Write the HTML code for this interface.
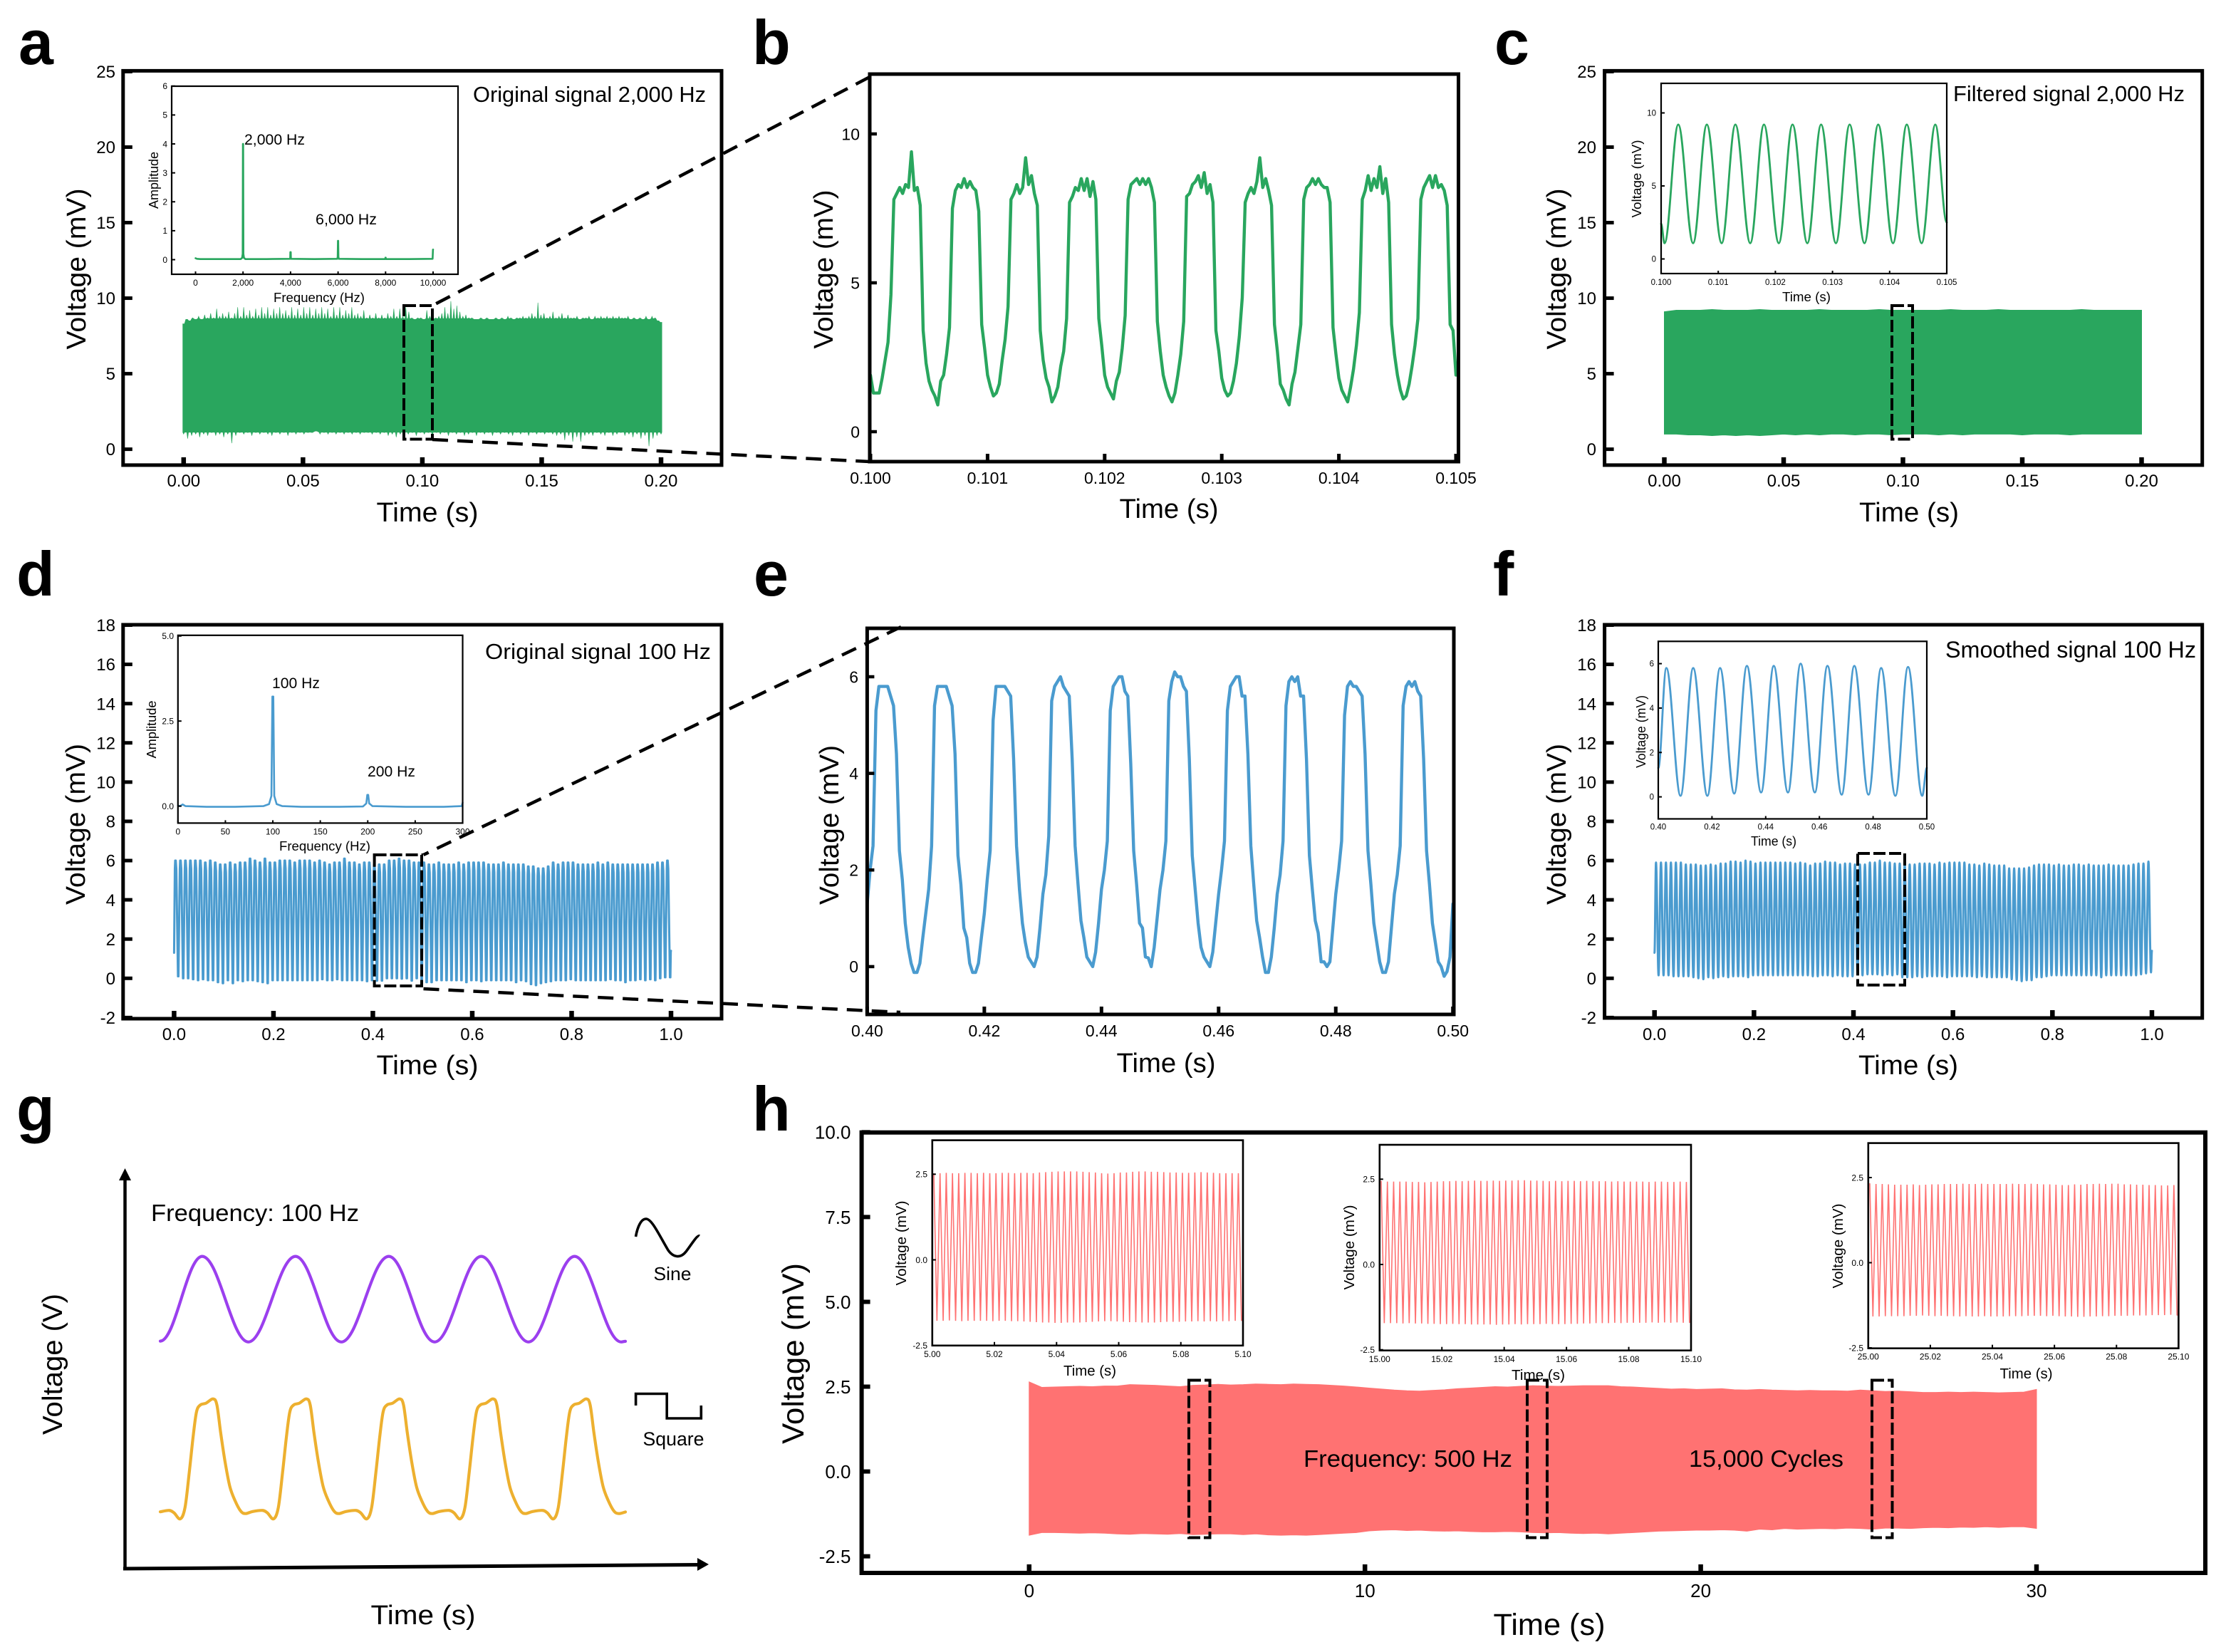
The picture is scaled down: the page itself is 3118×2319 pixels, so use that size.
<!DOCTYPE html>
<html lang="en">
<head>
<meta charset="utf-8">
<title>Signal filtering figure</title>
<style>
html,body{margin:0;padding:0;background:#fff;}
svg{display:block;}
svg text{font-family:"Liberation Sans",Arial,sans-serif;fill:#000;}
.letter{font-weight:700;font-size:88px;}
.sel{fill:none;stroke:#000;stroke-width:4;stroke-dasharray:17 5;}
.conn{fill:none;stroke:#000;stroke-width:4.5;stroke-dasharray:22 13;}
</style>
</head>
<body>
<svg id="chart" xmlns="http://www.w3.org/2000/svg" width="3118" height="2319" viewBox="0 0 3118 2319">
<rect x="0" y="0" width="3118" height="2319" fill="#fff"/>

<g id="panel-a"></g>
<g id="panel-b"></g>
<g id="panel-c"></g>
<g id="panel-d"></g>
<g id="panel-e"></g>
<g id="panel-f"></g>
<g id="panel-g"></g>
<g id="panel-h"></g>

<text class="letter" x="26" y="90">a</text>
<text class="letter" x="1056" y="90">b</text>
<text class="letter" x="2098" y="90">c</text>
<text class="letter" x="23" y="836">d</text>
<text class="letter" x="1058" y="836">e</text>
<text class="letter" x="2096" y="836">f</text>
<text class="letter" x="23" y="1587">g</text>
<text class="letter" x="1056" y="1587">h</text>

<!-- panel a text -->
<text transform="translate(120,377.5) rotate(-90)" text-anchor="middle" font-size="38" textLength="226" lengthAdjust="spacingAndGlyphs">Voltage (mV)</text>
<text x="600" y="732" text-anchor="middle" font-size="38" textLength="143" lengthAdjust="spacingAndGlyphs">Time (s)</text>
<text x="664" y="143" font-size="31" textLength="327" lengthAdjust="spacingAndGlyphs">Original signal 2,000 Hz</text>
<text x="448" y="424" text-anchor="middle" font-size="18.5" textLength="128" lengthAdjust="spacingAndGlyphs">Frequency (Hz)</text>
<text transform="translate(222,253) rotate(-90)" text-anchor="middle" font-size="18" textLength="80" lengthAdjust="spacingAndGlyphs">Amplitude</text>
<text x="343" y="203" font-size="21" textLength="85" lengthAdjust="spacingAndGlyphs">2,000 Hz</text>
<text x="443" y="315" font-size="21" textLength="86" lengthAdjust="spacingAndGlyphs">6,000 Hz</text>

<!-- panel b text -->
<text transform="translate(1169,378) rotate(-90)" text-anchor="middle" font-size="38" textLength="223" lengthAdjust="spacingAndGlyphs">Voltage (mV)</text>
<text x="1641" y="727" text-anchor="middle" font-size="38" textLength="139" lengthAdjust="spacingAndGlyphs">Time (s)</text>

<!-- panel c text -->
<text transform="translate(2198,377.5) rotate(-90)" text-anchor="middle" font-size="38" textLength="226" lengthAdjust="spacingAndGlyphs">Voltage (mV)</text>
<text x="2680" y="732" text-anchor="middle" font-size="38" textLength="140" lengthAdjust="spacingAndGlyphs">Time (s)</text>
<text x="2742" y="142" font-size="31" textLength="325" lengthAdjust="spacingAndGlyphs">Filtered signal 2,000 Hz</text>
<text x="2536" y="423" text-anchor="middle" font-size="18.5" textLength="68" lengthAdjust="spacingAndGlyphs">Time (s)</text>
<text transform="translate(2304,251) rotate(-90)" text-anchor="middle" font-size="18.5" textLength="109" lengthAdjust="spacingAndGlyphs">Voltage (mV)</text>

<!-- panel d text -->
<text transform="translate(119,1157) rotate(-90)" text-anchor="middle" font-size="38" textLength="226" lengthAdjust="spacingAndGlyphs">Voltage (mV)</text>
<text x="600" y="1508" text-anchor="middle" font-size="38" textLength="143" lengthAdjust="spacingAndGlyphs">Time (s)</text>
<text x="681" y="925" font-size="31" textLength="317" lengthAdjust="spacingAndGlyphs">Original signal 100 Hz</text>
<text x="456" y="1194" text-anchor="middle" font-size="18.5" textLength="128" lengthAdjust="spacingAndGlyphs">Frequency (Hz)</text>
<text transform="translate(219,1024) rotate(-90)" text-anchor="middle" font-size="18" textLength="81" lengthAdjust="spacingAndGlyphs">Amplitude</text>
<text x="382" y="966" font-size="21" textLength="67" lengthAdjust="spacingAndGlyphs">100 Hz</text>
<text x="516" y="1090" font-size="21" textLength="67" lengthAdjust="spacingAndGlyphs">200 Hz</text>

<!-- panel e text -->
<text transform="translate(1177,1158) rotate(-90)" text-anchor="middle" font-size="38" textLength="224" lengthAdjust="spacingAndGlyphs">Voltage (mV)</text>
<text x="1637" y="1505" text-anchor="middle" font-size="38" textLength="139" lengthAdjust="spacingAndGlyphs">Time (s)</text>

<!-- panel f text -->
<text transform="translate(2198,1157) rotate(-90)" text-anchor="middle" font-size="38" textLength="226" lengthAdjust="spacingAndGlyphs">Voltage (mV)</text>
<text x="2679" y="1508" text-anchor="middle" font-size="38" textLength="140" lengthAdjust="spacingAndGlyphs">Time (s)</text>
<text x="2731" y="923" font-size="32" textLength="352" lengthAdjust="spacingAndGlyphs">Smoothed signal 100 Hz</text>
<text x="2490" y="1187" text-anchor="middle" font-size="18" textLength="64" lengthAdjust="spacingAndGlyphs">Time (s)</text>
<text transform="translate(2310,1027) rotate(-90)" text-anchor="middle" font-size="18" textLength="102" lengthAdjust="spacingAndGlyphs">Voltage (mV)</text>

<!-- panel g text and legend -->
<text transform="translate(87,1915) rotate(-90)" text-anchor="middle" font-size="39" textLength="198" lengthAdjust="spacingAndGlyphs">Voltage (V)</text>
<text x="594" y="2280" text-anchor="middle" font-size="38" textLength="147" lengthAdjust="spacingAndGlyphs">Time (s)</text>
<text x="212" y="1714" font-size="33" textLength="292" lengthAdjust="spacingAndGlyphs">Frequency: 100 Hz</text>
<text x="944" y="1797" text-anchor="middle" font-size="26" textLength="53" lengthAdjust="spacingAndGlyphs">Sine</text>
<text x="945.5" y="2029" text-anchor="middle" font-size="26.5" textLength="86" lengthAdjust="spacingAndGlyphs">Square</text>
<path d="M892.5 1736 C895 1722 900 1711 907 1711 C915 1711 925 1733 938 1755 C945 1765 955 1767 963 1757 C970 1748 979 1733 982 1735" fill="none" stroke="#000" stroke-width="3.6"/>
<polyline points="892.6,1973 892.6,1956.5 936.2,1956.5 936.2,1991 984.3,1991 984.3,1973" fill="none" stroke="#000" stroke-width="3.6"/>
<line x1="175.5" y1="2203" x2="175.5" y2="1655" stroke="#000" stroke-width="4.5"/>
<polygon points="175.5,1640 167,1657 184,1657" fill="#000"/>
<line x1="173" y1="2202" x2="982" y2="2196.5" stroke="#000" stroke-width="5"/>
<polygon points="995,2196 979,2187 979,2205" fill="#000"/>

<!-- panel h text -->
<text transform="translate(1128,1900) rotate(-90)" text-anchor="middle" font-size="43" textLength="254" lengthAdjust="spacingAndGlyphs">Voltage (mV)</text>
<text x="2175" y="2295" text-anchor="middle" font-size="43" textLength="157" lengthAdjust="spacingAndGlyphs">Time (s)</text>
<text x="1530" y="1931" text-anchor="middle" font-size="20" textLength="74" lengthAdjust="spacingAndGlyphs">Time (s)</text>
<text transform="translate(1272,1745) rotate(-90)" text-anchor="middle" font-size="20" textLength="119" lengthAdjust="spacingAndGlyphs">Voltage (mV)</text>
<text x="2159.5" y="1937" text-anchor="middle" font-size="20" textLength="75" lengthAdjust="spacingAndGlyphs">Time (s)</text>
<text transform="translate(1901,1751) rotate(-90)" text-anchor="middle" font-size="20" textLength="119" lengthAdjust="spacingAndGlyphs">Voltage (mV)</text>
<text x="2844.5" y="1935" text-anchor="middle" font-size="20" textLength="74" lengthAdjust="spacingAndGlyphs">Time (s)</text>
<text transform="translate(2587,1749) rotate(-90)" text-anchor="middle" font-size="20" textLength="119" lengthAdjust="spacingAndGlyphs">Voltage (mV)</text>

<g id="overlays">
<rect class="sel" x="567" y="429" width="40" height="187.5"/>
<rect class="sel" x="2656" y="429" width="29" height="187.5"/>
<rect class="sel" x="525.6" y="1200" width="66.4" height="184"/>
<rect class="sel" x="2608" y="1198" width="66" height="184.7"/>
<rect class="sel" x="1669" y="1937.5" width="29.5" height="221"/>
<rect class="sel" x="2144" y="1937.5" width="28" height="221"/>
<rect class="sel" x="2628" y="1937.5" width="28.5" height="221"/>
<line class="conn" x1="1221" y1="108" x2="607" y2="429"/>
<line class="conn" x1="607" y1="617" x2="1221" y2="648"/>
<line class="conn" x1="1265" y1="880" x2="594.5" y2="1200"/>
<line class="conn" x1="594.5" y1="1388" x2="1264" y2="1421"/>
</g>

<text x="1830" y="2059" font-size="33" textLength="293" lengthAdjust="spacingAndGlyphs">Frequency: 500 Hz</text>
<text x="2371" y="2059" font-size="33" textLength="217" lengthAdjust="spacingAndGlyphs">15,000 Cycles</text>
</svg>

<script>
/* ---------- panel a data ---------- */
const aXTicks=[0,0.05,0.10,0.15,0.20];
const aXLabels=['0.00','0.05','0.10','0.15','0.20'];
const aYTicks=[0,5,10,15,20,25];
const aYLabels=['0','5','10','15','20','25'];
const aTop=[8.3,8.6,8.5,8.7,8.6,8.8,8.6,8.9,8.7,9.0,8.7,9.3,8.8,9.0,8.8,9.1,8.7,9.0,9.4,8.8,9.4,8.9,9.2,8.8,9.3,8.9,9.4,9.0,9.4,8.9,9.3,9.0,9.4,9.0,9.2,8.9,9.4,8.9,9.3,8.9,9.4,9.0,9.4,8.9,9.3,9.0,9.4,9.0,9.3,8.8,9.4,8.9,9.4,8.9,9.2,9.0,9.4,8.9,9.0,8.8,9.2,8.7,8.9,8.7,9.0,8.7,8.9,8.7,9.0,8.8,9.3,8.8,9.3,8.8,9.4,9.1,8.7,8.6,8.7,8.7,8.6,9.2,8.8,8.7,8.7,8.8,9.0,9.4,9.0,9.8,9.3,9.5,9.1,8.8,8.9,8.7,8.7,8.6,8.6,8.7,8.6,8.7,8.6,8.6,8.7,8.6,8.7,8.6,8.8,8.7,8.6,8.7,8.7,8.8,8.7,8.8,9.0,8.8,9.7,8.9,9.0,8.7,8.8,9.1,8.7,8.8,9.0,8.7,8.9,8.7,8.7,8.8,8.6,8.7,8.7,8.8,8.6,8.8,8.7,8.8,8.7,8.8,8.7,8.8,8.7,8.8,8.7,8.7,8.8,8.6,8.7,8.6,8.7,8.6,8.8,8.6,8.8,8.7,8.5,8.4];
const aBottom=[1.0,0.7,0.9,1.0,0.8,1.0,0.9,1.1,0.9,1.0,0.8,1.0,0.4,0.9,1.1,1.0,1.1,0.9,1.1,1.0,1.1,1.0,0.9,1.1,1.0,1.1,0.9,1.1,1.0,1.1,1.0,1.1,1.1,1.2,1.0,1.1,1.0,1.1,1.0,1.1,1.0,1.1,1.0,1.1,1.0,1.1,1.1,1.0,1.1,1.0,1.1,0.9,1.0,0.8,1.0,0.9,1.0,1.1,0.9,1.1,1.0,1.1,0.9,1.1,1.0,1.1,0.9,1.1,1.0,1.1,0.9,1.0,1.1,0.9,1.1,1.0,1.1,0.9,1.1,1.0,1.1,1.0,0.9,1.1,1.0,1.1,0.9,1.1,1.0,1.1,1.0,1.1,1.0,0.9,1.0,0.6,0.9,0.5,0.8,0.5,0.9,1.0,0.9,1.1,1.0,0.9,1.1,0.9,1.0,1.1,0.9,1.0,0.8,1.0,0.7,0.9,0.2,0.7,0.9,1.0];
const aTopBase=[8.65];
const aBottomBase=[1.12];
const aInsetFreq=[0,60,200,1000,1900,1960,1985,1995,2005,2015,2040,2100,3000,3985,3992,4000,4008,4015,5000,5970,5985,5995,6005,6015,6030,7000,7985,7995,8005,8015,9000,9980,9995,10000];
const aInsetAmp=[0.05,0.03,0.02,0.02,0.02,0.06,0.2,4.0,4.0,0.2,0.06,0.02,0.02,0.03,0.26,0.26,0.26,0.03,0.02,0.03,0.1,0.65,0.65,0.1,0.03,0.02,0.02,0.07,0.07,0.02,0.02,0.03,0.35,0.35];
const aInsetXTicks=[0,2000,4000,6000,8000,10000];
const aInsetXLabels=['0','2,000','4,000','6,000','8,000','10,000'];
const aInsetYTicks=[0,1,2,3,4,5,6];
const aInsetYLabels=['0','1','2','3','4','5','6'];

/* ---------- panel b data ---------- */
const bXTicks=[0.100,0.101,0.102,0.103,0.104,0.105];
const bXLabels=['0.100','0.101','0.102','0.103','0.104','0.105'];
const bYTicks=[0,5,10];
const bYLabels=['0','5','10'];
const bValues=[
1.9,1.3,1.3,1.3,1.8,2.4,3.0,4.6,7.8,8.0,8.2,8.0,8.3,8.2,9.4,8.1,8.2,7.6,3.4,2.3,
1.7,1.4,1.2,0.9,1.7,1.9,2.6,3.5,7.5,8.1,8.3,8.2,8.5,8.2,8.4,8.2,8.1,7.4,3.6,2.8,
1.9,1.5,1.2,1.3,1.6,2.4,3.1,4.2,7.8,8.0,8.3,8.0,8.2,9.2,8.3,8.6,8.0,7.6,3.4,2.4,
1.8,1.5,1.0,1.2,1.5,2.2,2.7,3.8,7.7,7.9,8.2,8.1,8.5,8.1,8.5,7.9,8.4,7.8,3.8,2.9,
1.9,1.5,1.3,1.1,1.7,2.0,2.8,3.9,7.8,8.3,8.4,8.5,8.3,8.5,8.3,8.5,8.2,7.7,3.7,2.7,
1.9,1.5,1.2,1.0,1.3,1.9,2.6,3.7,7.9,8.0,8.3,8.4,8.6,8.2,8.7,8.0,8.3,7.7,3.4,2.7,
1.8,1.4,1.2,1.3,1.7,2.3,3.2,4.5,7.7,8.0,8.2,8.0,8.4,9.2,8.2,8.5,8.1,7.6,3.6,2.7,
1.6,1.4,1.1,0.9,1.6,2.0,2.8,3.6,7.8,8.2,8.3,8.5,8.3,8.5,8.3,8.2,8.2,7.7,3.5,2.6,
1.8,1.4,1.2,1.0,1.5,2.1,2.9,4.0,7.8,8.1,8.6,8.1,8.5,8.2,8.9,8.0,8.5,7.7,3.6,2.6,
1.9,1.4,1.1,1.2,1.6,2.2,2.9,3.8,7.8,8.2,8.4,8.6,8.2,8.6,8.2,8.3,8.1,7.6,3.6,3.4,
1.9];

/* ---------- panel c data ---------- */
const cXTicks=[0,0.05,0.10,0.15,0.20];
const cXLabels=['0.00','0.05','0.10','0.15','0.20'];
const cYTicks=[0,5,10,15,20,25];
const cYLabels=['0','5','10','15','20','25'];
const cTop=[9.1,9.2,9.2,9.2,9.25,9.2,9.2,9.2,9.25,9.2,9.2,9.2,9.2,9.25,9.2,9.2,9.2,9.2,9.25,9.2,9.2,9.2,9.2,9.2,9.25,9.2,9.2,9.2,9.25,9.2,9.2,9.2,9.2,9.2,9.2,9.25,9.2,9.2,9.2,9.2,9.2];
const cBottom=[1.0,1.0,0.95,0.95,0.9,0.95,0.9,0.95,0.9,0.95,1.0,0.95,1.0,0.95,1.0,1.0,0.95,1.0,1.0,0.95,1.0,1.0,1.0,0.95,1.0,0.95,1.0,1.0,1.0,1.0,0.95,1.0,1.0,1.0,0.95,1.0,1.0,1.0,1.0,1.0,1.0];
const cInsetPeaks=[9.2,9.2,9.2,9.2,9.2,9.2,9.2,9.2,9.2,9.2];
const cInsetTroughs=[1.08,1.08,1.08,1.08,1.08,1.08,1.08,1.08,1.08,1.08];
const cInsetEnds=[2.4,2.5];
const cInsetXTicks=[0.100,0.101,0.102,0.103,0.104,0.105];
const cInsetXLabels=['0.100','0.101','0.102','0.103','0.104','0.105'];
const cInsetYTicks=[0,5,10];
const cInsetYLabels=['0','5','10'];

/* ---------- panel d data ---------- */
const dXTicks=[0,0.2,0.4,0.6,0.8,1.0];
const dXLabels=['0.0','0.2','0.4','0.6','0.8','1.0'];
const dYTicks=[-2,0,2,4,6,8,10,12,14,16,18];
const dYLabels=['-2','0','2','4','6','8','10','12','14','16','18'];
const dPeaks=[6.0,6.0,6.0,6.0,6.0,6.0,5.9,6.0,5.9,5.8,5.8,5.9,5.8,5.9,5.9,6.1,6.0,5.9,6.1,5.9,5.9,6.0,6.0,6.0,5.9,6.0,6.0,6.0,5.9,6.0,5.9,5.8,5.9,5.9,6.1,5.9,5.9,5.8,5.9,5.9,5.8,5.8,5.8,6.0,6.0,6.1,6.0,6.0,5.9,5.9,5.9,5.8,5.8,5.9,5.8,5.8,5.8,5.9,5.8,5.9,5.9,5.9,5.9,5.8,5.8,5.8,5.9,5.8,5.8,5.8,5.8,5.7,5.7,5.6,5.6,5.7,5.9,5.8,5.9,5.9,5.9,5.8,5.8,5.8,5.8,5.9,5.8,5.9,5.8,5.8,5.8,5.8,5.8,5.8,5.8,5.8,5.8,5.9,5.9,6.0];
const dTroughs=[0.1,0.0,0.0,-0.05,-0.1,-0.05,-0.1,-0.1,-0.2,-0.25,-0.1,-0.25,-0.1,-0.15,-0.1,-0.1,-0.15,-0.2,-0.25,-0.1,-0.1,-0.1,-0.1,-0.1,-0.1,-0.1,-0.1,-0.1,-0.1,-0.05,-0.1,-0.1,-0.05,-0.1,-0.1,-0.1,-0.1,-0.1,-0.15,-0.1,-0.12,-0.12,0.0,0.0,0.0,-0.02,0.0,-0.12,0.0,-0.12,-0.2,-0.2,-0.1,-0.1,-0.1,-0.1,-0.1,-0.1,-0.2,-0.1,-0.1,-0.15,-0.1,-0.1,-0.1,-0.1,-0.1,-0.1,-0.2,-0.1,-0.15,-0.3,-0.35,-0.25,-0.2,-0.15,-0.1,-0.1,-0.1,-0.05,-0.1,-0.1,-0.1,-0.1,-0.1,-0.1,-0.1,-0.05,-0.1,-0.1,-0.2,-0.1,-0.1,-0.05,-0.1,-0.05,-0.1,0.0,0.05,0.05];
const dStartValue=[1.3];
const dEndValue=[1.4];
const dInsetFreq=[0,2,5,8,30,60,90,96,98.5,99.5,100.5,101.5,104,110,130,170,195,198.5,199.5,200.5,201.5,205,240,280,299,300];
const dInsetAmp=[0.02,0.0,0.05,0.0,-0.02,-0.02,0.0,0.06,0.3,3.22,3.22,0.3,0.06,0.0,-0.02,-0.02,-0.01,0.08,0.33,0.33,0.08,0.0,-0.02,-0.02,0.0,0.1];
const dInsetXTicks=[0,50,100,150,200,250,300];
const dInsetXLabels=['0','50','100','150','200','250','300'];
const dInsetYTicks=[0,2.5,5];
const dInsetYLabels=['0.0','2.5','5.0'];

/* ---------- panel e data ---------- */
const eXTicks=[0.40,0.42,0.44,0.46,0.48,0.50];
const eXLabels=['0.40','0.42','0.44','0.46','0.48','0.50'];
const eYTicks=[0,2,4,6];
const eYLabels=['0','2','4','6'];
const eValues=[
1.3,2.0,2.5,5.3,5.8,5.8,5.8,5.8,5.6,5.4,4.4,2.4,1.8,0.9,0.4,0.07,-0.12,-0.12,0.07,0.6,
1.1,1.6,2.5,5.4,5.8,5.8,5.8,5.8,5.6,5.4,4.4,2.3,1.7,0.8,0.6,0.07,-0.12,-0.12,0.07,0.6,
1.1,1.8,2.4,5.1,5.8,5.8,5.8,5.8,5.7,5.6,4.3,2.5,1.6,0.9,0.5,0.2,0.1,0.0,0.2,0.8,
1.5,1.9,2.7,5.5,5.8,5.9,6.0,5.8,5.7,5.6,4.3,2.5,1.7,0.95,0.6,0.2,0.1,0.0,0.3,0.9,
1.6,2.0,2.6,5.3,5.8,5.9,6.0,6.0,5.7,5.6,4.2,2.4,1.7,0.9,0.8,0.2,0.18,0.0,0.4,1.0,
1.6,2.0,2.6,5.5,5.9,6.1,6.0,6.0,5.8,5.7,4.3,2.3,1.6,0.9,0.4,0.2,0.1,0.0,0.3,0.9,
1.5,2.0,2.6,5.3,5.8,5.9,6.0,6.0,5.6,5.6,4.4,2.5,1.7,0.95,0.6,0.2,-0.12,-0.12,0.2,0.8,
1.5,1.9,2.6,5.4,5.9,6.0,5.9,6.0,5.6,5.6,4.3,2.3,1.6,0.95,0.7,0.1,0.1,0.0,0.1,0.8,
1.5,2.0,2.6,5.2,5.8,5.9,5.8,5.8,5.7,5.6,4.4,2.4,1.7,0.9,0.5,0.1,-0.12,-0.12,0.1,0.8,
1.5,1.9,2.5,5.4,5.8,5.9,5.8,5.9,5.7,5.6,4.3,2.4,1.7,0.9,0.5,0.1,0.0,-0.2,-0.1,0.2,
1.3];

/* ---------- panel f data ---------- */
const fXTicks=[0,0.2,0.4,0.6,0.8,1.0];
const fXLabels=['0.0','0.2','0.4','0.6','0.8','1.0'];
const fYTicks=[-2,0,2,4,6,8,10,12,14,16,18];
const fYLabels=['-2','0','2','4','6','8','10','12','14','16','18'];
const fPeaks=[5.9,5.9,5.9,5.9,5.9,5.9,5.8,5.8,5.8,5.75,5.75,5.8,5.75,5.85,5.85,5.95,5.95,5.9,6.0,5.95,5.85,5.9,5.9,5.9,5.9,5.9,5.9,5.9,5.85,5.9,5.85,5.75,5.85,5.85,5.95,5.9,5.9,5.8,5.85,5.85,5.8,5.8,5.8,5.9,5.9,6.0,5.9,5.9,5.85,5.85,5.85,5.8,5.8,5.85,5.85,5.85,5.8,5.9,5.85,5.9,5.9,5.9,5.9,5.8,5.8,5.75,5.85,5.8,5.75,5.75,5.75,5.6,5.6,5.6,5.6,5.65,5.75,5.8,5.8,5.8,5.75,5.8,5.75,5.75,5.8,5.8,5.75,5.8,5.75,5.75,5.75,5.8,5.75,5.75,5.75,5.75,5.8,5.85,5.85,5.95];
const fTroughs=[0.15,0.15,0.15,0.1,0.1,0.1,0.1,0.05,0.0,-0.05,0.05,0.0,0.05,0.1,0.05,0.1,0.1,0.1,0.05,0.15,0.15,0.15,0.15,0.15,0.15,0.15,0.15,0.15,0.15,0.15,0.15,0.1,0.1,0.15,0.15,0.1,0.15,0.1,0.1,0.1,0.2,0.15,0.2,0.2,0.2,0.15,0.2,0.15,0.2,0.05,0.05,0.05,0.1,0.05,0.1,0.1,0.1,0.1,0.05,0.1,0.1,0.1,0.1,0.1,0.05,0.1,0.05,0.05,0.05,0.05,0.05,-0.05,-0.1,-0.15,-0.1,-0.1,0.05,0.05,0.1,0.15,0.15,0.15,0.15,0.15,0.15,0.15,0.15,0.15,0.15,0.05,0.15,0.15,0.15,0.15,0.15,0.15,0.15,0.2,0.25,0.3];
const fStartValue=[1.3];
const fEndValue=[1.4];
const fInsetPeaks=[5.8,5.8,5.8,5.9,5.9,6.0,5.9,5.9,5.8,5.85];
const fInsetTroughs=[0.05,0.05,0.15,0.2,0.2,0.2,0.1,0.1,0.05,0.05];
const fInsetXTicks=[0.40,0.42,0.44,0.46,0.48,0.50];
const fInsetXLabels=['0.40','0.42','0.44','0.46','0.48','0.50'];
const fInsetYTicks=[0,2,4,6];
const fInsetYLabels=['0','2','4','6'];

/* ---------- panel g data (time in ms, voltage in arbitrary units) ---------- */
const gSineT=[0,4.49,9.44,14.49,19.4,24.49,29.4,34.4,39.46,44.4,49.4,49.85];
const gSineV=[0.1,10,0,10,0,10,0,10,0,10,0,0.08];
const gSquareT=[0,0.97,1.48,2.14,2.65,3.11,3.52,3.88,4.29,4.9,5.66,6.07,6.48,6.94,7.45,8.0,8.62,9.13,9.9,
10.97,11.48,12.14,12.65,13.11,13.52,13.88,14.29,14.9,15.66,16.07,16.48,16.94,17.45,18.0,18.62,19.13,19.9,
20.97,21.48,22.14,22.65,23.11,23.52,23.88,24.29,24.9,25.66,26.07,26.48,26.94,27.45,28.0,28.62,29.13,29.9,
30.97,31.48,32.14,32.65,33.11,33.52,33.88,34.29,34.9,35.66,36.07,36.48,36.94,37.45,38.0,38.62,39.13,39.9,
40.97,41.48,42.14,42.65,43.11,43.52,43.88,44.29,44.9,45.66,46.07,46.48,46.94,47.45,48.0,48.62,49.13,49.85];
const gSquareV=[-19.83,-19.67,-19.96,-20.66,-19.34,-15.2,-11.07,-8.18,-7.36,-7.15,-6.65,-7.36,-10.66,-13.97,-16.86,-18.5,-19.75,-20.04,-19.8,
-19.67,-19.96,-20.66,-19.34,-15.2,-11.07,-8.18,-7.36,-7.15,-6.65,-7.36,-10.66,-13.97,-16.86,-18.5,-19.75,-20.04,-19.8,
-19.67,-19.96,-20.66,-19.34,-15.2,-11.07,-8.18,-7.36,-7.15,-6.65,-7.36,-10.66,-13.97,-16.86,-18.5,-19.75,-20.04,-19.8,
-19.67,-19.96,-20.66,-19.34,-15.2,-11.07,-8.18,-7.36,-7.15,-6.65,-7.36,-10.66,-13.97,-16.86,-18.5,-19.75,-20.04,-19.8,
-19.67,-19.96,-20.66,-19.34,-15.2,-11.07,-8.18,-7.36,-7.15,-6.65,-7.36,-10.66,-13.97,-16.86,-18.5,-19.75,-20.04,-19.85];

/* ---------- panel h data ---------- */
const hXTicks=[0,10,20,30];
const hXLabels=['0','10','20','30'];
const hYTicks=[-2.5,0,2.5,5,7.5,10];
const hYLabels=['-2.5','0.0','2.5','5.0','7.5','10.0'];
const hTop=[2.64,2.48,2.49,2.5,2.51,2.5,2.52,2.52,2.56,2.55,2.54,2.52,2.5,2.54,2.55,2.57,2.55,2.56,2.58,2.57,2.56,2.58,2.57,2.56,2.54,2.52,2.49,2.46,2.43,2.4,2.38,2.37,2.39,2.41,2.44,2.46,2.48,2.5,2.49,2.51,2.53,2.52,2.51,2.52,2.53,2.53,2.53,2.5,2.49,2.47,2.45,2.43,2.44,2.42,2.43,2.44,2.41,2.4,2.42,2.4,2.39,2.38,2.39,2.38,2.38,2.37,2.4,2.38,2.36,2.37,2.35,2.33,2.33,2.34,2.33,2.34,2.33,2.32,2.33,2.34,2.42];
const hBottom=[-1.88,-1.8,-1.8,-1.81,-1.82,-1.81,-1.82,-1.84,-1.85,-1.83,-1.84,-1.85,-1.83,-1.86,-1.85,-1.84,-1.84,-1.86,-1.84,-1.87,-1.88,-1.87,-1.88,-1.86,-1.84,-1.82,-1.8,-1.75,-1.73,-1.72,-1.74,-1.73,-1.75,-1.76,-1.75,-1.77,-1.78,-1.78,-1.77,-1.78,-1.8,-1.81,-1.8,-1.82,-1.83,-1.82,-1.84,-1.82,-1.8,-1.78,-1.76,-1.75,-1.74,-1.73,-1.73,-1.72,-1.73,-1.76,-1.7,-1.72,-1.68,-1.7,-1.69,-1.68,-1.69,-1.67,-1.68,-1.7,-1.67,-1.67,-1.68,-1.66,-1.65,-1.66,-1.64,-1.65,-1.63,-1.65,-1.63,-1.63,-1.68];
const h1XTicks=[5.00,5.02,5.04,5.06,5.08,5.10];
const h1XLabels=['5.00','5.02','5.04','5.06','5.08','5.10'];
const h1Peaks=[2.51,2.53,2.54,2.53,2.53,2.54,2.54,2.53,2.54,2.53,2.53,2.54,2.54,2.53,2.54,2.54,2.53,2.55,2.56,2.57,2.58,2.58,2.58,2.58,2.57,2.56,2.55,2.53,2.52,2.53,2.55,2.55,2.57,2.58,2.58,2.57,2.57,2.56,2.55,2.55,2.54,2.54,2.55,2.56,2.55,2.54,2.53,2.53,2.53,2.53];
const h1Troughs=[-1.78,-1.78,-1.77,-1.78,-1.79,-1.78,-1.78,-1.78,-1.78,-1.79,-1.78,-1.78,-1.79,-1.79,-1.8,-1.81,-1.82,-1.83,-1.83,-1.84,-1.84,-1.83,-1.83,-1.83,-1.82,-1.81,-1.8,-1.79,-1.79,-1.8,-1.81,-1.82,-1.82,-1.83,-1.83,-1.83,-1.82,-1.81,-1.81,-1.81,-1.8,-1.8,-1.79,-1.8,-1.79,-1.8,-1.79,-1.79,-1.78,-1.77];
const h2XTicks=[15.00,15.02,15.04,15.06,15.08,15.10];
const h2XLabels=['15.00','15.02','15.04','15.06','15.08','15.10'];
const h2Peaks=[2.44,2.43,2.43,2.43,2.43,2.42,2.42,2.41,2.42,2.43,2.44,2.44,2.45,2.44,2.45,2.46,2.45,2.45,2.46,2.45,2.46,2.46,2.47,2.47,2.46,2.46,2.45,2.44,2.45,2.44,2.45,2.45,2.44,2.45,2.44,2.44,2.44,2.43,2.44,2.43,2.43,2.43,2.43,2.42,2.43,2.43,2.42,2.42,2.43,2.42];
const h2Troughs=[-1.72,-1.72,-1.72,-1.73,-1.72,-1.73,-1.73,-1.74,-1.74,-1.75,-1.75,-1.74,-1.75,-1.75,-1.76,-1.76,-1.76,-1.76,-1.77,-1.76,-1.76,-1.75,-1.76,-1.75,-1.75,-1.75,-1.74,-1.75,-1.75,-1.75,-1.74,-1.74,-1.73,-1.73,-1.72,-1.72,-1.72,-1.71,-1.72,-1.71,-1.71,-1.71,-1.71,-1.7,-1.71,-1.7,-1.71,-1.7,-1.71,-1.7];
const h3XTicks=[25.00,25.02,25.04,25.06,25.08,25.10];
const h3XLabels=['25.00','25.02','25.04','25.06','25.08','25.10'];
const h3Peaks=[2.32,2.31,2.31,2.3,2.29,2.29,2.29,2.3,2.28,2.29,2.3,2.3,2.31,2.31,2.31,2.32,2.31,2.31,2.32,2.31,2.31,2.31,2.31,2.32,2.31,2.31,2.32,2.31,2.3,2.3,2.29,2.28,2.28,2.3,2.29,2.31,2.31,2.32,2.31,2.32,2.32,2.3,2.3,2.29,2.29,2.28,2.28,2.27,2.27,2.28];
const h3Troughs=[-1.58,-1.58,-1.57,-1.57,-1.57,-1.57,-1.56,-1.56,-1.55,-1.56,-1.57,-1.56,-1.57,-1.57,-1.58,-1.57,-1.58,-1.58,-1.57,-1.58,-1.58,-1.58,-1.57,-1.57,-1.57,-1.56,-1.56,-1.56,-1.57,-1.56,-1.57,-1.58,-1.58,-1.59,-1.59,-1.58,-1.58,-1.57,-1.57,-1.56,-1.56,-1.56,-1.55,-1.55,-1.55,-1.54,-1.54,-1.54,-1.53,-1.54];
const hInsetYTicks=[-2.5,0,2.5];
const hInsetYLabels=['-2.5','0.0','2.5'];

/* ---------- drawing helpers ---------- */
const NS='http://www.w3.org/2000/svg';
const GREEN='#29a65e',BLUE='#4a9bcf',RED='#ff7272',PURPLE='#9b3fee',ORANGE='#edb02f';
function mk(tag,parent,attrs){
  const e=document.createElementNS(NS,tag);
  for(const k in attrs){e.setAttribute(k,attrs[k]);}
  parent.appendChild(e);
  return e;
}
function scale(d0,d1,r0,r1){return function(v){return r0+(v-d0)*(r1-r0)/(d1-d0);};}
function fmt(n){return n.toFixed(2);}
function linePath(xs,ys){
  let s='';
  for(let i=0;i<xs.length;i++){s+=(i?'L':'M')+fmt(xs[i])+' '+fmt(ys[i]);}
  return s;
}
/* sine-like curve between successive extrema: horizontal tangents at each point */
function wavePath(xs,ys){
  let s='M'+fmt(xs[0])+' '+fmt(ys[0]);
  for(let i=1;i<xs.length;i++){
    const k=(xs[i]-xs[i-1])*0.3642;
    s+='C'+fmt(xs[i-1]+k)+' '+fmt(ys[i-1])+' '+fmt(xs[i]-k)+' '+fmt(ys[i])+' '+fmt(xs[i])+' '+fmt(ys[i]);
  }
  return s;
}
/* Catmull-Rom smoothing */
function smoothPath(xs,ys){
  let s='M'+fmt(xs[0])+' '+fmt(ys[0]);
  for(let i=0;i<xs.length-1;i++){
    const a=Math.max(i-1,0),d=Math.min(i+2,xs.length-1);
    s+='C'+fmt(xs[i]+(xs[i+1]-xs[a])/6)+' '+fmt(ys[i]+(ys[i+1]-ys[a])/6)+' '+fmt(xs[i+1]-(xs[d]-xs[i])/6)+' '+fmt(ys[i+1]-(ys[d]-ys[i])/6)+' '+fmt(xs[i+1])+' '+fmt(ys[i+1]);
  }
  return s;
}
function drawLine(parent,name,d,color,w){
  const p=mk('path',parent,{d:d,fill:'none',stroke:color,'stroke-width':w,'stroke-linejoin':'round','stroke-linecap':'round'});
  
  
  return p;
}
/* filled envelope of a dense signal between time 0 and tEnd */
function drawBand(parent,name,top,bottom,tEnd,sx,sy,color){
  let s='';
  top.forEach(function(v,i){s+=(i?'L':'M')+fmt(sx(i/(top.length-1)*tEnd))+' '+fmt(sy(v));});
  for(let i=bottom.length-1;i>=0;i--){s+='L'+fmt(sx(i/(bottom.length-1)*tEnd))+' '+fmt(sy(bottom[i]));}
  const p=mk('path',parent,{d:s+'Z',fill:color,stroke:color,'stroke-width':1});
  
  
  return p;
}
/* same envelope, each sample drawn as a narrow spike off a base level */
function drawSpikyBand(parent,name,top,bottom,topBase,bottomBase,tEnd,sx,sy,color){
  const hw=1.2;
  let s='';
  top.forEach(function(v,i){
    const x=sx(i/(top.length-1)*tEnd),b=sy(Math.min(v,topBase));
    s+=(i?'L':'M')+fmt(x-hw)+' '+fmt(b)+'L'+fmt(x)+' '+fmt(sy(v))+'L'+fmt(x+hw)+' '+fmt(b);
  });
  for(let i=bottom.length-1;i>=0;i--){
    const v=bottom[i],x=sx(i/(bottom.length-1)*tEnd),b=sy(Math.max(v,bottomBase));
    s+='L'+fmt(x+hw)+' '+fmt(b)+'L'+fmt(x)+' '+fmt(sy(v))+'L'+fmt(x-hw)+' '+fmt(b);
  }
  const p=mk('path',parent,{d:s+'Z',fill:color,stroke:color,'stroke-width':0.6});
  
  
  return p;
}
/* uniformly sampled series */
function sampled(values,t0,t1,sx,sy){
  const xs=values.map(function(v,i){return sx(t0+(t1-t0)*i/(values.length-1));});
  const ys=values.map(function(v){return sy(v);});
  return linePath(xs,ys);
}
function drawAxes(o){
  const g=o.g;
  const f=mk('rect',g,{x:o.box[0],y:o.box[1],width:o.box[2]-o.box[0],height:o.box[3]-o.box[1],fill:'none',stroke:'#000','stroke-width':o.sw});
  
  
  o.xT.forEach(function(v,i){
    const x=o.sx(v);
    const t=mk('line',g,{x1:x,x2:x,y1:o.box[3],y2:o.box[3]-o.xLen,stroke:'#000','stroke-width':o.xW});
    
    
    const l=mk('text',g,{x:x,y:o.xBase,'text-anchor':'middle','font-size':o.fs});
    l.textContent=o.xL[i];
    
    
  });
  o.yT.forEach(function(v,i){
    const y=o.sy(v);
    const t=mk('line',g,{x1:o.box[0],x2:o.box[0]+o.yLen,y1:y,y2:y,stroke:'#000','stroke-width':o.yW});
    
    
    const l=mk('text',g,{x:o.yEnd,y:y+o.fs*0.36,'text-anchor':'end','font-size':o.fs});
    l.textContent=o.yL[i];
    
    
  });
}
/* alternating extrema, ordered by time: peak at phase pk, trough at phase tr of each period */
function extremaSeries(peaks,troughs,t0,period,pk,tr,startV,endV,tEnd){
  const pts=[];
  peaks.forEach(function(p,i){
    pts.push([t0+i*period+pk,p]);
    pts.push([t0+i*period+tr,troughs[i]]);
  });
  pts.sort(function(a,b){return a[0]-b[0];});
  if(startV!==null){pts.unshift([t0,startV]);}
  if(endV!==null){pts.push([tEnd,endV]);}
  return {ts:pts.map(function(q){return q[0];}),vs:pts.map(function(q){return q[1];})};
}
function plateauPath(peaks,troughs,t0,period,sx,sy,startV,endV,tEnd){
  const xs=[],ys=[];
  xs.push(sx(t0));ys.push(sy(startV));
  peaks.forEach(function(p,i){
    const b=t0+i*period;
    xs.push(sx(b+0.0015));ys.push(sy(p*0.93));
    xs.push(sx(b+0.0022));ys.push(sy(p));
    xs.push(sx(b+0.0034));ys.push(sy(p));
    xs.push(sx(b+0.0045));ys.push(sy(p*0.93));
    xs.push(sx(b+0.0078));ys.push(sy(troughs[i]));
    xs.push(sx(b+0.0088));ys.push(sy(troughs[i]));
  });
  xs.push(sx(tEnd-0.0004));ys.push(sy(endV));
  xs.push(sx(tEnd));ys.push(sy(endV));
  return linePath(xs,ys);
}

/* ---------- panel a ---------- */
(function(){
  const g=document.getElementById('panel-a');
  const sx=scale(0,0.2,257.8,928),sy=scale(0,20,630.6,206.5);
  drawSpikyBand(g,'a-signal-trace',aTop,aBottom,aTopBase[0],aBottomBase[0],0.2,sx,sy,GREEN);
  drawAxes({g:g,name:'a',sx:sx,sy:sy,box:[172.8,99.4,1013,652.9],sw:5,xT:aXTicks,xL:aXLabels,yT:aYTicks,yL:aYLabels,fs:24,xLen:11,xW:6.5,yLen:13,yW:5,xBase:683,yEnd:162});
  const ix=scale(0,10000,274.5,608),iy=scale(0,5,364.5,161.4);
  drawLine(g,'a-inset-spectrum',linePath(aInsetFreq.map(ix),aInsetAmp.map(iy)),GREEN,2.6);
  drawAxes({g:g,name:'a-inset',sx:ix,sy:iy,box:[241,121,643,385],sw:2.2,xT:aInsetXTicks,xL:aInsetXLabels,yT:aInsetYTicks,yL:aInsetYLabels,fs:12,xLen:4,xW:2,yLen:5,yW:2,xBase:401,yEnd:235});
})();

/* ---------- panel b ---------- */
(function(){
  const g=document.getElementById('panel-b');
  const sx=scale(0.1,0.105,1222,2044),sy=scale(0,10,606,188);
  drawLine(g,'b-signal-trace',sampled(bValues,0.1,0.105,sx,sy),GREEN,4.4);
  drawAxes({g:g,name:'b',sx:sx,sy:sy,box:[1221,104,2047.5,648],sw:5,xT:bXTicks,xL:bXLabels,yT:bYTicks,yL:bYLabels,fs:23,xLen:11,xW:5,yLen:10,yW:4.5,xBase:679,yEnd:1207});
})();

/* ---------- panel c ---------- */
(function(){
  const g=document.getElementById('panel-c');
  const sx=scale(0,0.2,2336.5,3006.5),sy=scale(0,20,630.6,206.5);
  drawBand(g,'c-signal-trace',cTop,cBottom,0.2,sx,sy,GREEN);
  drawAxes({g:g,name:'c',sx:sx,sy:sy,box:[2252.6,99.4,3091.7,652.9],sw:5,xT:cXTicks,xL:cXLabels,yT:cYTicks,yL:cYLabels,fs:24,xLen:11,xW:6.5,yLen:13,yW:5,xBase:683,yEnd:2241});
  const ix=scale(0.1,0.105,2332,2733),iy=scale(0,10,363.5,158.5);
  const w=extremaSeries(cInsetPeaks,cInsetTroughs,0.1,0.0005,0.0003,0.00006,cInsetEnds[0],cInsetEnds[1],0.105);
  drawLine(g,'c-inset-signal-trace',wavePath(w.ts.map(ix),w.vs.map(iy)),GREEN,2.8);
  drawAxes({g:g,name:'c-inset',sx:ix,sy:iy,box:[2332,117,2733,384],sw:2.2,xT:cInsetXTicks,xL:cInsetXLabels,yT:cInsetYTicks,yL:cInsetYLabels,fs:11.5,xLen:4,xW:2,yLen:5,yW:2,xBase:400,yEnd:2325});
})();

/* ---------- panel d ---------- */
(function(){
  const g=document.getElementById('panel-d');
  const sx=scale(0,1,244.4,942),sy=scale(0,16,1373.3,932.6);
  drawLine(g,'d-signal-trace',plateauPath(dPeaks,dTroughs,0,0.01,sx,sy,dStartValue[0],dEndValue[0],1.0),BLUE,3);
  drawAxes({g:g,name:'d',sx:sx,sy:sy,box:[172.8,877,1013,1430],sw:5,xT:dXTicks,xL:dXLabels,yT:dYTicks,yL:dYLabels,fs:24,xLen:11,xW:6.5,yLen:13,yW:5,xBase:1460,yEnd:162});
  const ix=scale(0,300,249.8,649.5),iy=scale(0,2.5,1131.6,1012.2);
  drawLine(g,'d-inset-spectrum',linePath(dInsetFreq.map(ix),dInsetAmp.map(iy)),BLUE,2.6);
  drawAxes({g:g,name:'d-inset',sx:ix,sy:iy,box:[249.8,891.8,649.5,1155.4],sw:2.2,xT:dInsetXTicks,xL:dInsetXLabels,yT:dInsetYTicks,yL:dInsetYLabels,fs:12,xLen:4,xW:2,yLen:5,yW:2,xBase:1171.5,yEnd:244});
})();

/* ---------- panel e ---------- */
(function(){
  const g=document.getElementById('panel-e');
  const sx=scale(0.4,0.5,1217.4,2039.7),sy=scale(0,6,1356.9,950);
  drawLine(g,'e-signal-trace',sampled(eValues,0.4,0.5,sx,sy),BLUE,4.4);
  drawAxes({g:g,name:'e',sx:sx,sy:sy,box:[1217.4,882,2041,1424],sw:5,xT:eXTicks,xL:eXLabels,yT:eYTicks,yL:eYLabels,fs:23,xLen:11,xW:5,yLen:10,yW:4.5,xBase:1455,yEnd:1205});
})();

/* ---------- panel f ---------- */
(function(){
  const g=document.getElementById('panel-f');
  const sx=scale(0,1,2322.7,3021),sy=scale(0,16,1373.3,932.6);
  const w=extremaSeries(fPeaks,fTroughs,0,0.01,0.003,0.0082,fStartValue[0],fEndValue[0],1.0);
  drawLine(g,'f-signal-trace',wavePath(w.ts.map(sx),w.vs.map(sy)),BLUE,3);
  drawAxes({g:g,name:'f',sx:sx,sy:sy,box:[2252.6,877,3091.7,1429],sw:5,xT:fXTicks,xL:fXLabels,yT:fYTicks,yL:fYLabels,fs:24,xLen:11,xW:6.5,yLen:13,yW:5,xBase:1460,yEnd:2241});
  const ix=scale(0.4,0.5,2328,2705),iy=scale(0,6,1118.6,931.6);
  const v=extremaSeries(fInsetPeaks,fInsetTroughs,0.4,0.01,0.003,0.0083,1.3,1.3,0.5);
  drawLine(g,'f-inset-signal-trace',wavePath(v.ts.map(ix),v.vs.map(iy)),BLUE,2.8);
  drawAxes({g:g,name:'f-inset',sx:ix,sy:iy,box:[2328,900.3,2705,1149.5],sw:2.2,xT:fInsetXTicks,xL:fInsetXLabels,yT:fInsetYTicks,yL:fInsetYLabels,fs:11.5,xLen:4,xW:2,yLen:5,yW:2,xBase:1164.5,yEnd:2322});
})();

/* ---------- panel g ---------- */
(function(){
  const g=document.getElementById('panel-g');
  const sx=scale(0,50,225,880),sy=scale(0,10,1883.8,1763.6);
  drawLine(g,'g-sine-wave',wavePath(gSineT.map(sx),gSineV.map(sy)),PURPLE,4.2);
  drawLine(g,'g-square-wave',smoothPath(gSquareT.map(sx),gSquareV.map(sy)),ORANGE,4.2);
})();

/* ---------- panel h ---------- */
(function(){
  const g=document.getElementById('panel-h');
  const sx=scale(0,30,1444.8,2859),sy=scale(0,7.5,2065.6,1708.4);
  drawBand(g,'h-signal-trace',hTop,hBottom,30,sx,sy,RED);
  drawAxes({g:g,name:'h',sx:sx,sy:sy,box:[1209.6,1589.7,3096,2208],sw:6,xT:hXTicks,xL:hXLabels,yT:hYTicks,yL:hYLabels,fs:26,xLen:12,xW:6.5,yLen:12,yW:6,xBase:2242,yEnd:1194.5});
  const insets=[
    {n:'h-inset1',t0:5,peaks:h1Peaks,troughs:h1Troughs,xT:h1XTicks,xL:h1XLabels,box:[1308.8,1600.6,1745,1888.8],y25:1648.3,y0:1768.5,xBase:1905,yEnd:1302},
    {n:'h-inset2',t0:15,peaks:h2Peaks,troughs:h2Troughs,xT:h2XTicks,xL:h2XLabels,box:[1936.8,1607,2374,1895.7],y25:1655.3,y0:1775,xBase:1912,yEnd:1930},
    {n:'h-inset3',t0:25,peaks:h3Peaks,troughs:h3Troughs,xT:h3XTicks,xL:h3XLabels,box:[2622.8,1604.6,3058.4,1892.7],y25:1653,y0:1772.5,xBase:1908.5,yEnd:2616}
  ];
  insets.forEach(function(c){
    const ix=scale(c.t0,c.t0+0.1,c.box[0],c.box[2]),iy=scale(0,2.5,c.y0,c.y25);
    const w=extremaSeries(c.peaks,c.troughs,c.t0,0.002,0.0005,0.0015,null,null,c.t0+0.1);
    const p=drawLine(g,c.n+'-signal-trace',linePath(w.ts.map(ix),w.vs.map(iy)),RED,1.6);
    p.setAttribute('stroke-linejoin','miter');
    drawAxes({g:g,name:c.n,sx:ix,sy:iy,box:c.box,sw:2.6,xT:c.xT,xL:c.xL,yT:hInsetYTicks,yL:hInsetYLabels,fs:12,xLen:5,xW:2,yLen:5,yW:2,xBase:c.xBase,yEnd:c.yEnd});
  });
})();
</script>
</body>
</html>
